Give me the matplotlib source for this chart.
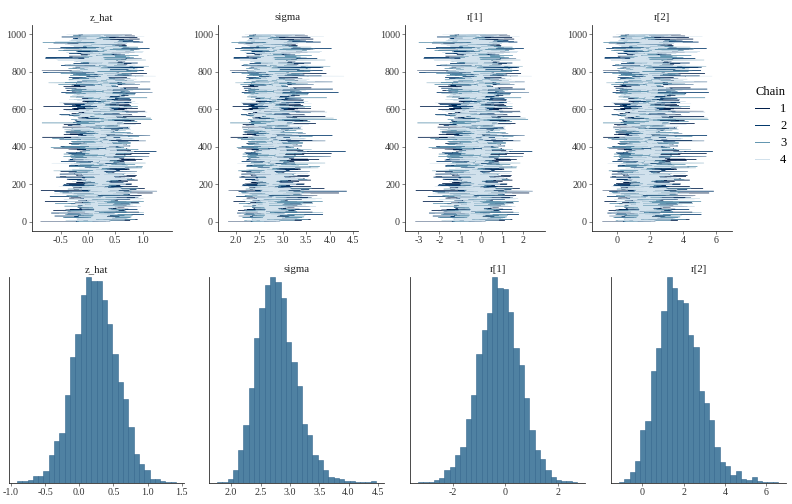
import matplotlib
matplotlib.use("Agg")
import matplotlib.pyplot as plt
from matplotlib.lines import Line2D
import numpy as np

plt.rcParams["font.family"] = ["Liberation Serif", "DejaVu Serif"]
plt.rcParams["axes.unicode_minus"] = False

params = ["z_hat", "sigma", "r[1]", "r[2]"]
chains = ["1", "2", "3", "4"]
chain_colors = ["#011f4b", "#03396c", "#6497b1", "#d1e1ec"]
n_iter = 1000

# 30-bin histograms: outer edges and bar heights (y axis is unlabelled, so relative)
zhat_edges = (-0.913, 1.417)
zhat_heights = [5, 6, 8, 20, 20, 37, 85, 126, 150, 262, 376, 446, 561, 615, 603,
                603, 545, 475, 386, 303, 252, 168, 88, 56, 39, 11, 13, 5, 3, 3]
sigma_edges = (1.757, 4.469)
sigma_heights = [3, 3, 12, 39, 99, 173, 284, 433, 523, 591, 614, 598, 550, 419, 362,
                 289, 177, 143, 83, 70, 40, 17, 14, 11, 5, 7, 3, 3, 2, 5]
r1_edges = (-3.34, 2.73)
r1_heights = [3, 3, 3, 8, 15, 40, 47, 83, 107, 190, 264, 384, 458, 508, 615,
              581, 580, 511, 403, 353, 253, 157, 100, 73, 40, 18, 8, 6, 6, 3]
r2_edges = (-1.14, 6.58)
r2_heights = [3, 12, 33, 66, 157, 184, 335, 402, 514, 615, 581, 545, 537, 441, 406,
              274, 239, 188, 106, 64, 50, 24, 36, 11, 10, 17, 5, 2, 2, 2]

hist_ranges = [zhat_edges, sigma_edges, r1_edges, r2_edges]
hist_heights = [zhat_heights, sigma_heights, r1_heights, r2_heights]

trace_ticks = [[-0.5, 0.0, 0.5, 1.0], [2.0, 2.5, 3.0, 3.5, 4.0, 4.5],
               [-3, -2, -1, 0, 1, 2], [0, 2, 4, 6]]
hist_ticks = [[-1.0, -0.5, 0.0, 0.5, 1.0, 1.5], [2.0, 2.5, 3.0, 3.5, 4.0, 4.5],
              [-2, 0, 2], [0, 2, 4, 6]]
tick_fmt = ["{:.1f}", "{:.1f}", "{:g}", "{:g}"]

# the draws themselves can't be read off the trace; rebuild them from the
# histogram's quantiles, visited in a fixed scrambled order per chain
chain_a = [0.6180340, 0.4142136, 0.7320508, 0.2360680]
chain_b = [0.3819660, 0.2071068, 0.5773503, 0.8660254]

W, H = 792, 504
fig = plt.figure(figsize=(11, 7), dpi=72)

top_left = [31.7, 218, 405, 592]
bot_left = [9, 209, 410, 611]
axis_col = "#222222"


def style(ax):
    for s in ["top", "right"]:
        ax.spines[s].set_visible(False)
    for s in ["left", "bottom"]:
        ax.spines[s].set_color(axis_col)
        ax.spines[s].set_linewidth(0.8)
    ax.tick_params(colors="#333333", labelcolor="#333333", labelsize=10,
                   length=3, width=0.6, pad=2)


for i, p in enumerate(params):
    lo, hi = hist_ranges[i]
    heights = np.array(hist_heights[i], dtype=float)
    edges = np.linspace(lo, hi, len(heights) + 1)
    cdf = np.concatenate([[0], np.cumsum(heights)]) / heights.sum()
    span = hi - lo

    # trace panel
    ax = fig.add_axes([top_left[i] / W, 1 - 231 / H, 140 / W, 206 / H])
    it = np.arange(1, n_iter + 1)
    for c, col in enumerate(chain_colors):
        k = it.astype(float)
        u = (chain_a[c] * k * k + chain_b[c] * k) % 1.0
        u = 0.0005 + 0.999 * u
        draws = np.interp(u, cdf, edges)
        ax.plot(draws, it, color=col, lw=0.4)
    ax.set_ylim(-50, 1050)
    ax.set_yticks([0, 200, 400, 600, 800, 1000])
    ax.set_xticks(trace_ticks[i])
    ax.set_xticklabels([tick_fmt[i].format(t) for t in trace_ticks[i]])
    ax.set_xlim(lo - 0.05 * span, hi + 0.05 * span)
    ax.set_title(p, fontsize=10.8, pad=5, color="#222222")
    style(ax)

    # histogram panel
    ax = fig.add_axes([bot_left[i] / W, 1 - 483 / H, 175 / W, 206 / H])
    ax.bar(edges[:-1], heights, width=np.diff(edges), align="edge",
           color="#4f81a2", edgecolor="#2a5e88", linewidth=0.5)
    ax.set_ylim(0, heights.max())
    ax.set_xlim(lo - 0.05 * span, hi + 0.05 * span)
    ax.set_xticks(hist_ticks[i])
    ax.set_xticklabels([tick_fmt[i].format(t) for t in hist_ticks[i]])
    ax.set_yticks([])
    ax.set_title(p, fontsize=10.8, pad=5, color="#222222")
    style(ax)

handles = [Line2D([0], [0], color=col, lw=1.0) for col in chain_colors]
fig.legend(handles, chains, title="Chain", loc="upper left",
           bbox_to_anchor=(744 / W, 1 - 75 / H), frameon=False, fontsize=12.5,
           title_fontsize=12.5, handlelength=1.1, handletextpad=0.9,
           labelspacing=0.4, alignment="left")

fig.savefig("out.png", dpi=72)
